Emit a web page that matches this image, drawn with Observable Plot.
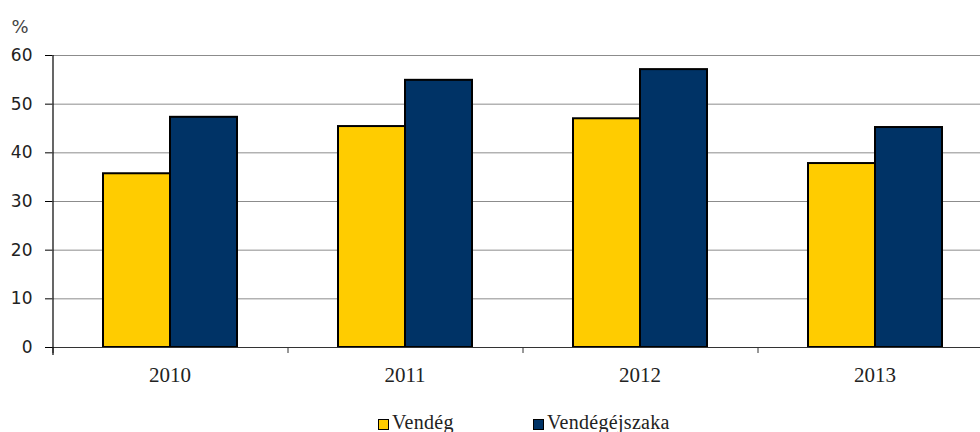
<!DOCTYPE html>
<html>
<head>
<meta charset="utf-8">
<script src="https://cdn.jsdelivr.net/npm/d3@7"></script>
<script src="https://cdn.jsdelivr.net/npm/@observablehq/plot@0.6"></script>
<style>
  html, body { margin: 0; padding: 0; background: #fff; overflow: hidden; width: 980px; height: 432px; }
  #chart svg { display: block; overflow: hidden; }
  #legend { font-family: "Liberation Serif", serif; font-size: 20px; line-height: 24px; padding-top: 15px; white-space: nowrap; color: #222; letter-spacing: 0.3px; }
  #legend .item { position: absolute; }
  #legend .sw { display: inline-block; width: 9px; height: 9px; border: 1.5px solid #000; margin-right: 3px; position: relative; top: 1px; }
</style>
</head>
<body>
<div id="chart"></div>
<div id="legend"></div>
<script>
const years = ["2010", "2011", "2012", "2013"];
const series = ["Vendég", "Vendégéjszaka"];
const vendeg = [35.7, 45.4, 47.0, 37.8];
const vendegejszaka = [47.3, 54.9, 57.1, 45.2];
const colors = ["#FFCC00", "#003366"];
const yTicks = [0, 10, 20, 30, 40, 50, 60];

const rows = [];
years.forEach((y, i) => {
  rows.push({year: y, series: series[0], value: vendeg[i]});
  rows.push({year: y, series: series[1], value: vendegejszaka[i]});
});

const plot = Plot.plot({
  width: 980,
  height: 395,
  marginTop: 55,
  marginBottom: 48,
  marginLeft: 52,
  marginRight: -12,
  style: {background: "#fff"},
  fx: {domain: years, paddingInner: 0, paddingOuter: 0, label: null},
  x: {domain: series, paddingInner: 0, paddingOuter: 0.74, axis: null},
  y: {domain: [0, 60], axis: null},
  color: {domain: series, range: colors},
  marks: [
    Plot.gridY(yTicks, {stroke: "#8c8c8c", strokeOpacity: 1, strokeWidth: 1}),
    Plot.axisY({ticks: yTicks, tickSize: 7, tickPadding: 13, fontSize: 17, fontFamily: "DejaVu Sans", stroke: "#000", color: "#222", label: null, facetAnchor: "left"}),
    Plot.axisFx({anchor: "bottom", tickSize: 0, tickPadding: 20, fontSize: 21, fontFamily: "Liberation Serif", color: "#222", label: null}),
    Plot.barY(rows, {fx: "year", x: "series", y: "value", fill: "series", stroke: "#000", strokeWidth: 2}),
    Plot.ruleY([0], {stroke: "#333", strokeWidth: 1.2}),
    Plot.ruleX(years, {fx: d => d, x: () => series[0], y1: () => 0, y2: () => 0, dx: -84, insetBottom: -6, stroke: "#333"}),
    Plot.ruleX([years[0]], {fx: d => d, x: () => series[0], y1: () => 60, y2: () => 0, dx: -84, insetBottom: -8, stroke: "#000", strokeWidth: 1.2}),
    Plot.text(["%"], {fx: () => years[0], frameAnchor: "top-left", text: d => d, dx: -41, dy: -35, textAnchor: "start", fontSize: 18, fontFamily: "DejaVu Sans", fill: "#444"})
  ]
});
document.getElementById("chart").appendChild(plot);

const legend = document.getElementById("legend");
const lx = [378, 533];
series.forEach((s, i) => {
  const it = document.createElement("span");
  it.className = "item";
  it.style.left = lx[i] + "px";
  const sw = document.createElement("span");
  sw.className = "sw";
  sw.style.background = colors[i];
  it.appendChild(sw);
  it.appendChild(document.createTextNode(s));
  legend.appendChild(it);
});
</script>
</body>
</html>
